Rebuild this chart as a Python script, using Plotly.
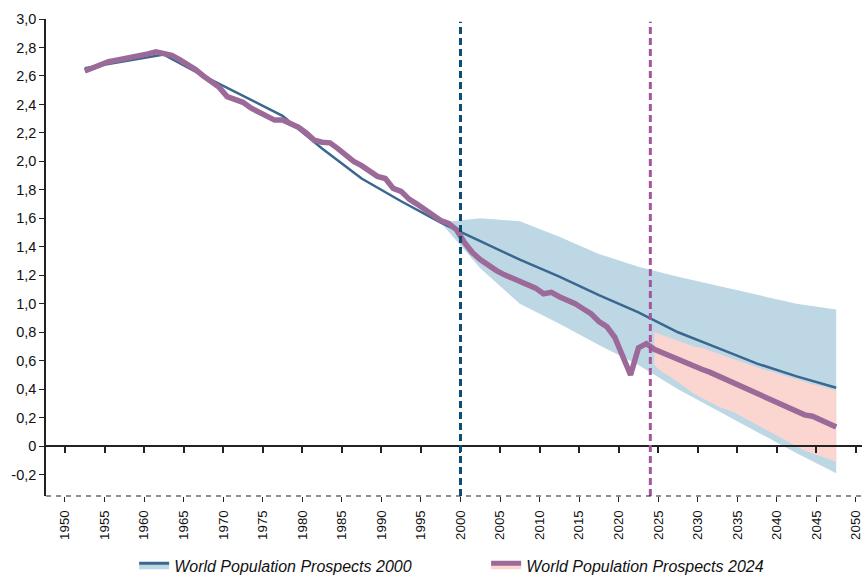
import plotly.graph_objects as go

# ---------------- data ----------------
wpp2000_years = [1952.5, 1957.5, 1962.5, 1967.5, 1972.5, 1977.5, 1982.5, 1987.5, 1992.5, 1997.5,
                 2002.5, 2007.5, 2012.5, 2017.5, 2022.5, 2027.5, 2032.5, 2037.5, 2042.5, 2047.5]
wpp2000_medium = [2.655, 2.70, 2.75, 2.60, 2.46, 2.32, 2.09, 1.88, 1.72, 1.57,
                  1.44, 1.31, 1.19, 1.06, 0.94, 0.80, 0.69, 0.58, 0.49, 0.41]

wpp2000_band_years = [1997.5, 2002.5, 2007.5, 2012.5, 2017.5, 2022.5, 2027.5, 2032.5, 2037.5, 2042.5, 2047.5]
wpp2000_high = [1.57, 1.60, 1.58, 1.47, 1.35, 1.26, 1.19, 1.125, 1.06, 1.00, 0.96]
wpp2000_low = [1.57, 1.25, 1.00, 0.86, 0.71, 0.57, 0.40, 0.25, 0.10, -0.05, -0.19]

wpp2024_years = [1952.5 + i for i in range(96)]
wpp2024_medium = [
    2.635, 2.66, 2.68, 2.70, 2.71, 2.72, 2.73, 2.745, 2.755, 2.77,
    2.76, 2.745, 2.715, 2.685, 2.645, 2.60, 2.56, 2.52, 2.455, 2.435,
    2.415, 2.375, 2.345, 2.32, 2.29, 2.29, 2.27, 2.24, 2.20, 2.15,
    2.135, 2.13, 2.09, 2.04, 2.00, 1.97, 1.935, 1.895, 1.88, 1.81,
    1.79, 1.735, 1.70, 1.665, 1.63, 1.585, 1.565, 1.52, 1.43, 1.36,
    1.31, 1.27, 1.235, 1.205, 1.18, 1.165, 1.14, 1.11, 1.07, 1.08,
    1.05, 1.03, 1.00, 0.965, 0.93, 0.875, 0.84, 0.765, 0.63, 0.50,
    0.69, 0.72, 0.68, 0.655, 0.63, 0.605, 0.585, 0.565, 0.54, 0.52,
    0.495, 0.47, 0.445, 0.42, 0.395, 0.37, 0.345, 0.32, 0.295, 0.27,
    0.245, 0.22, 0.21, 0.185, 0.16, 0.135,
]

wpp2024_band_years = [2024.5 + i for i in range(24)]
wpp2024_high = [0.80, 0.78, 0.76, 0.74, 0.72, 0.70, 0.69, 0.67, 0.65, 0.63, 0.61, 0.595,
                0.575, 0.555, 0.535, 0.52, 0.50, 0.485, 0.47, 0.45, 0.435, 0.42, 0.405, 0.39]
wpp2024_low = [0.57, 0.52, 0.49, 0.45, 0.41, 0.37, 0.34, 0.31, 0.28, 0.26, 0.24, 0.21,
               0.18, 0.15, 0.12, 0.09, 0.06, 0.03, 0.00, -0.03, -0.05, -0.07, -0.09, -0.11]

reference_years = [2000, 2024]

x_tick_values = list(range(1950, 2051, 5))
x_tick_labels = [str(v) for v in x_tick_values]
y_tick_values = [-0.2, 0, 0.2, 0.4, 0.6, 0.8, 1.0, 1.2, 1.4, 1.6, 1.8, 2.0, 2.2, 2.4, 2.6, 2.8, 3.0]
y_tick_labels = ["-0,2", "0", "0,2", "0,4", "0,6", "0,8", "1,0", "1,2", "1,4", "1,6", "1,8",
                 "2,0", "2,2", "2,4", "2,6", "2,8", "3,0"]

series_names = ["World Population Prospects 2000", "World Population Prospects 2024"]

# ---------------- styles ----------------
BLUE_LINE = "#3a6690"
BLUE_BAND = "#bdd8e4"
PURPLE_LINE = "#9c6a98"
PINK_BAND = "#fbd6d1"
NAVY_DASH = "#0f4c73"
PURPLE_DASH = "#a5559b"
FONT = "Arial, Liberation Sans, sans-serif"

X_RANGE = [1947.6, 2050.76]
Y_RANGE = [-0.35, 3.0]

fig = go.Figure()

fig.add_trace(go.Scatter(
    x=wpp2000_band_years + wpp2000_band_years[::-1],
    y=wpp2000_high + wpp2000_low[::-1],
    fill="toself", fillcolor=BLUE_BAND, line=dict(width=0),
    mode="lines", showlegend=False, hoverinfo="skip"))
fig.add_trace(go.Scatter(
    x=wpp2024_band_years + wpp2024_band_years[::-1],
    y=wpp2024_high + wpp2024_low[::-1],
    fill="toself", fillcolor=PINK_BAND, line=dict(width=0),
    mode="lines", showlegend=False, hoverinfo="skip"))
fig.add_trace(go.Scatter(
    x=wpp2000_years, y=wpp2000_medium, mode="lines",
    line=dict(color=BLUE_LINE, width=2.5), showlegend=False))
fig.add_trace(go.Scatter(
    x=wpp2024_years, y=wpp2024_medium, mode="lines",
    line=dict(color=PURPLE_LINE, width=5.5), showlegend=False))

# legend entries (empty traces on the overlaid zero-line axis)
fig.add_trace(go.Scatter(
    x=[None], y=[None], xaxis="x2", mode="lines", fill="toself", fillcolor=BLUE_BAND,
    line=dict(color=BLUE_LINE, width=3), name=series_names[0]))
fig.add_trace(go.Scatter(
    x=[None], y=[None], xaxis="x2", mode="lines", fill="toself", fillcolor=PINK_BAND,
    line=dict(color=PURPLE_LINE, width=5), name=series_names[1]))

for yr, col in zip(reference_years, [NAVY_DASH, PURPLE_DASH]):
    fig.add_shape(type="line", xref="x", yref="paper", x0=yr, x1=yr, y0=0, y1=0.994,
                  line=dict(color=col, width=3, dash="7px,4px"), layer="above")

# dashed bottom axis line
fig.add_shape(type="line", xref="paper", yref="paper", x0=0, x1=1, y0=0, y1=0,
              line=dict(color="#222222", width=1.2, dash="5px,5px"), layer="above")

zero_pos = (0 - Y_RANGE[0]) / (Y_RANGE[1] - Y_RANGE[0])

fig.update_layout(
    width=862, height=575,
    margin=dict(l=46, r=0, t=19, b=79, autoexpand=False),
    paper_bgcolor="white", plot_bgcolor="white",
    font=dict(family=FONT, size=14, color="#111111"),
    showlegend=True,
    legend=dict(orientation="h", x=0.108, xanchor="left", y=-0.11, yanchor="top",
                font=dict(family=FONT, size=16, color="#111111", style="italic"),
                entrywidth=307, entrywidthmode="pixels", bgcolor="rgba(0,0,0,0)"),
    xaxis=dict(range=X_RANGE, tickmode="array", tickvals=x_tick_values, ticktext=x_tick_labels,
               tickangle=-90, ticks="outside", ticklen=5, tickwidth=1.2, tickcolor="#222222",
               showline=False, showgrid=False, zeroline=False, ticklabelstandoff=3,
               ticklabeloverflow="allow",
               tickfont=dict(size=13.3, family=FONT, color="#111111")),
    xaxis2=dict(range=X_RANGE, overlaying="x", anchor="free", position=zero_pos,
                side="bottom", tickmode="array", tickvals=x_tick_values, showticklabels=False,
                ticks="outside", ticklen=6, tickwidth=1.5, tickcolor="#222222",
                showline=True, linecolor="#222222", linewidth=1.5,
                showgrid=False, zeroline=False),
    yaxis=dict(range=Y_RANGE, tickmode="array", tickvals=y_tick_values, ticktext=y_tick_labels,
               ticks="outside", ticklen=5, tickwidth=1.2, tickcolor="#222222",
               showline=True, linecolor="#222222", linewidth=1.5,
               showgrid=False, zeroline=False,
               tickfont=dict(size=14.5, family=FONT, color="#111111")),
)

fig.write_html("out.html", config={"displayModeBar": False},
               post_script="document.body.style.margin='0';document.body.style.overflow='hidden';")
